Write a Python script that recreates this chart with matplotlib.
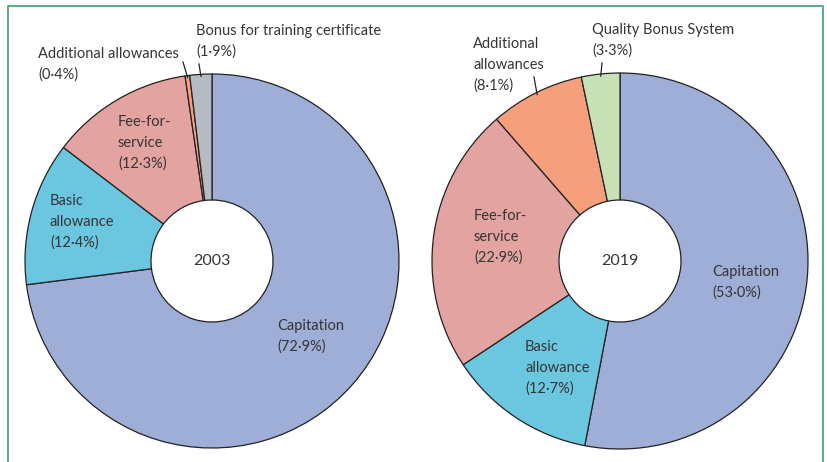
import matplotlib.pyplot as plt
import numpy as np

plt.rcParams['font.family'] = ['Lato', 'DejaVu Sans']

# Data (shares of GP income, %), listed clockwise from 12 o'clock
cats_2003 = ['Capitation', 'Basic allowance', 'Fee-for-service',
             'Additional allowances', 'Bonus for training certificate']
vals_2003 = [72.9, 12.4, 12.3, 0.4, 1.9]

cats_2019 = ['Capitation', 'Basic allowance', 'Fee-for-service',
             'Additional allowances', 'Quality Bonus System']
vals_2019 = [53.0, 12.7, 22.9, 8.1, 3.3]

colors_2003 = ['#9eaed6', '#6bc6df', '#e3a3a0', '#f59f7d', '#b4bbc3']
colors_2019 = ['#9eaed6', '#6bc6df', '#e3a3a0', '#f59f7d', '#c8e0b5']

W, H = 827, 462
TXT = '#353535'

fig = plt.figure(figsize=(8.27, 4.62), dpi=100)
ax = fig.add_axes([0, 0, 1, 1])
ax.set_xlim(0, W)
ax.set_ylim(0, H)
ax.set_aspect('equal')
ax.axis('off')


def py(y):
    # pixel row (from top) -> data y
    return H - y


def fmt(v):
    return f'({v:.1f}%)'.replace('.', '·')


def draw_donut(cx, cy, r, hole, vals, colors):
    ax.pie(vals, colors=colors, startangle=90, counterclock=False,
           center=(cx, py(cy)), radius=r,
           wedgeprops=dict(width=r - hole, edgecolor='#222222', linewidth=0.9))


def arc_point(cx, cy, r, vals, i):
    # point on the outer arc at the middle of wedge i (clockwise from top)
    before = sum(vals[:i]) / sum(vals)
    mid = before + vals[i] / sum(vals) / 2
    ang = np.deg2rad(90 - 360 * mid)
    return cx + r * np.cos(ang), py(cy) + r * np.sin(ang)


fs = 10.5
ls = 1.58

# ---- 2003 ----
c1 = (212, 261, 187)
draw_donut(c1[0], c1[1], c1[2], 61, vals_2003, colors_2003)
ax.text(c1[0], py(c1[1]), '2003', ha='center', va='center', fontsize=11.5, color=TXT)
ax.text(277, py(336), 'Capitation\n' + fmt(vals_2003[0]), ha='left', va='center',
        fontsize=fs, color=TXT, linespacing=ls)
ax.text(50, py(222), 'Basic\nallowance\n' + fmt(vals_2003[1]), ha='left', va='center',
        fontsize=fs, color=TXT, linespacing=ls)
ax.text(118, py(143), 'Fee-for-\nservice\n' + fmt(vals_2003[2]), ha='left', va='center',
        fontsize=fs, color=TXT, linespacing=ls)
ax.text(38, py(64), cats_2003[3] + '\n' + fmt(vals_2003[3]), ha='left', va='center',
        fontsize=fs, color=TXT, linespacing=ls)
ax.text(196, py(41), cats_2003[4] + '\n' + fmt(vals_2003[4]), ha='left', va='center',
        fontsize=fs, color=TXT, linespacing=ls)
for i, start in [(3, (183, 62)), (4, (199, 64))]:
    ex, ey = arc_point(c1[0], c1[1], c1[2] - 2, vals_2003, i)
    ax.plot([start[0], ex], [py(start[1]), ey], color='#222222', lw=0.9)

# ---- 2019 ----
c2 = (620, 261, 188)
draw_donut(c2[0], c2[1], c2[2], 61, vals_2019, colors_2019)
ax.text(c2[0], py(c2[1]), '2019', ha='center', va='center', fontsize=11.5, color=TXT)
ax.text(712, py(282), 'Capitation\n' + fmt(vals_2019[0]), ha='left', va='center',
        fontsize=fs, color=TXT, linespacing=ls)
ax.text(525, py(368), 'Basic\nallowance\n' + fmt(vals_2019[1]), ha='left', va='center',
        fontsize=fs, color=TXT, linespacing=ls)
ax.text(474, py(237), 'Fee-for-\nservice\n' + fmt(vals_2019[2]), ha='left', va='center',
        fontsize=fs, color=TXT, linespacing=ls)
ax.text(473, py(65), 'Additional\nallowances\n' + fmt(vals_2019[3]), ha='left', va='center',
        fontsize=fs, color=TXT, linespacing=ls)
ax.text(592, py(40), cats_2019[4] + '\n' + fmt(vals_2019[4]), ha='left', va='center',
        fontsize=fs, color=TXT, linespacing=ls)
for i, start in [(3, (534, 77)), (4, (602, 63))]:
    ex, ey = arc_point(c2[0], c2[1], c2[2] - 2, vals_2019, i)
    ax.plot([start[0], ex], [py(start[1]), ey], color='#222222', lw=0.9)

# green frame (open at the bottom)
ax.plot([8, 8, 823, 823], [py(470), py(6), py(6), py(470)], color='#4aa879',
        lw=1.3, clip_on=False)

ax.set_xlim(0, W)
ax.set_ylim(0, H)
fig.savefig('out.png', dpi=100)
